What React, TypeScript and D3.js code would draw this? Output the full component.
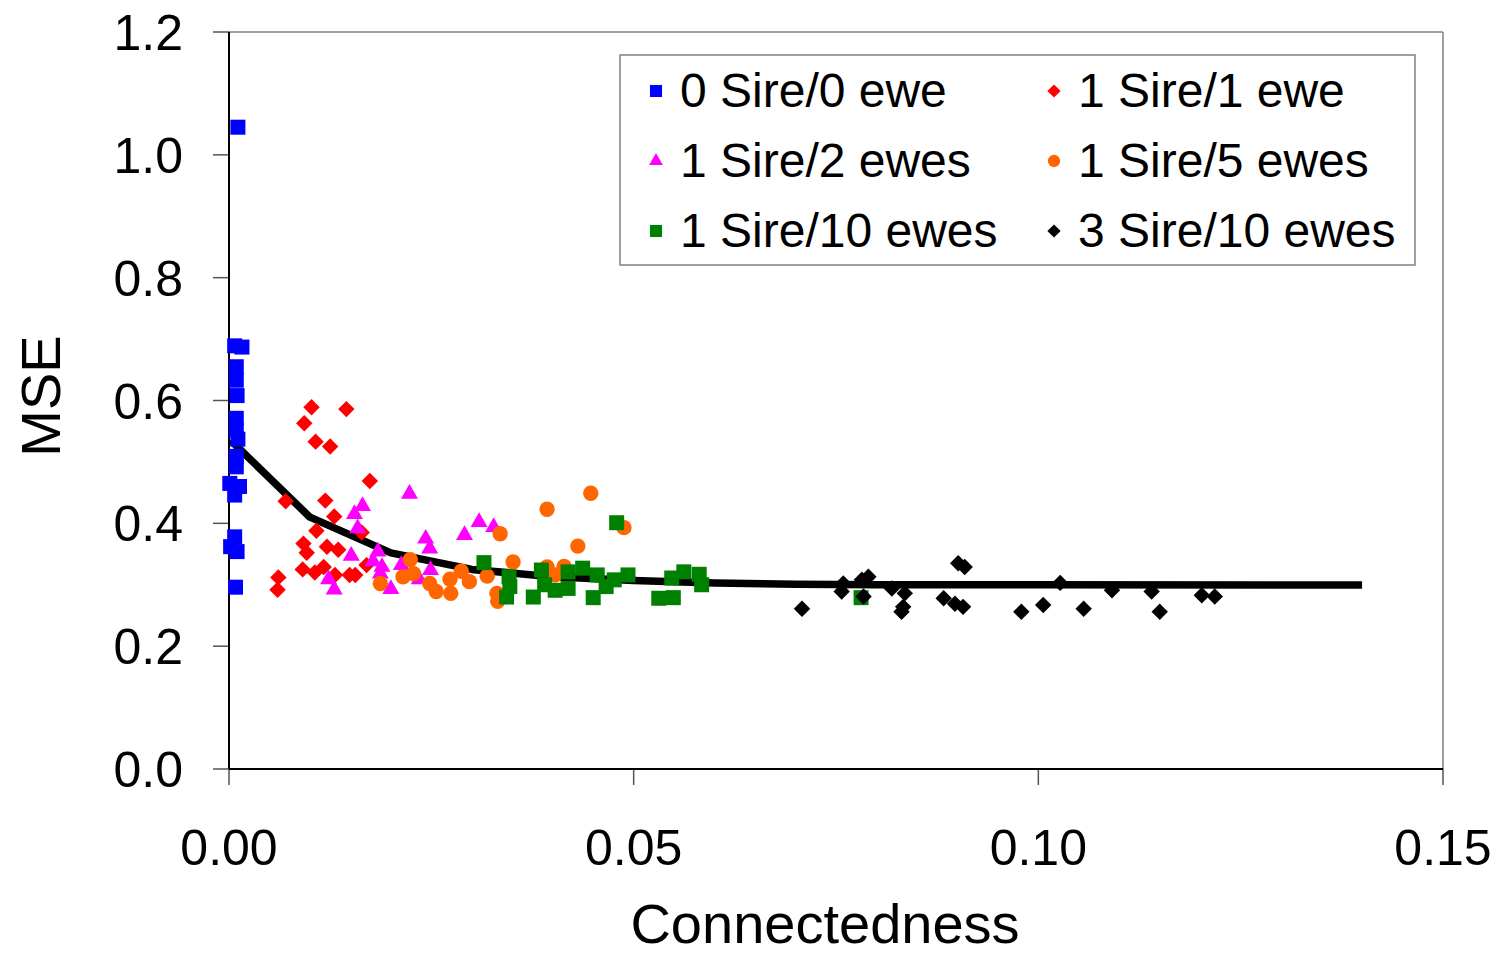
import React from "react";
import * as d3 from "d3";

// [connectedness, MSE] per design
const sire0Ewe0 = [
  [0.0011, 1.045], [0.0007, 0.689], [0.0016, 0.687], [0.0009, 0.655], [0.0009, 0.633],
  [0.001, 0.608], [0.0009, 0.571], [0.0009, 0.552], [0.0011, 0.537], [0.0009, 0.509],
  [0.0009, 0.492], [0.0001, 0.465], [0.0013, 0.46], [0.0007, 0.446], [0.0007, 0.378],
  [0.0002, 0.362], [0.001, 0.354], [0.0008, 0.296],
];
const sire1Ewe1 = [
  [0.0102, 0.589], [0.0145, 0.586], [0.0093, 0.563], [0.0107, 0.533], [0.0125, 0.525],
  [0.0174, 0.469], [0.007, 0.436], [0.0119, 0.437], [0.013, 0.411], [0.0108, 0.388],
  [0.0164, 0.385], [0.0092, 0.367], [0.0096, 0.352], [0.0121, 0.362], [0.0135, 0.357],
  [0.0091, 0.325], [0.0106, 0.32], [0.0117, 0.329], [0.0131, 0.316], [0.0149, 0.316],
  [0.0156, 0.316], [0.017, 0.332], [0.0061, 0.312], [0.006, 0.292],
];
const sire1Ewe2 = [
  [0.0223, 0.448], [0.0165, 0.428], [0.0155, 0.415], [0.0159, 0.392], [0.0243, 0.375],
  [0.0248, 0.359], [0.0309, 0.402], [0.0327, 0.394], [0.0291, 0.381], [0.0151, 0.347],
  [0.0184, 0.354], [0.0178, 0.338], [0.0189, 0.329], [0.0213, 0.332], [0.0249, 0.324],
  [0.0235, 0.309], [0.0123, 0.309], [0.013, 0.292], [0.02, 0.293], [0.0187, 0.318],
];
const sire1Ewe5 = [
  [0.0335, 0.383], [0.0351, 0.337], [0.0224, 0.341], [0.0215, 0.313], [0.0228, 0.318],
  [0.0187, 0.302], [0.0248, 0.302], [0.0256, 0.289], [0.0273, 0.309], [0.0274, 0.286],
  [0.0287, 0.322], [0.0297, 0.305], [0.0319, 0.314], [0.0331, 0.286], [0.0332, 0.273],
  [0.0447, 0.449], [0.0393, 0.423], [0.0488, 0.393], [0.0431, 0.363], [0.0393, 0.329],
  [0.0414, 0.33], [0.0403, 0.316],
];
const sire1Ewe10 = [
  [0.0479, 0.401], [0.0315, 0.336], [0.0346, 0.313], [0.0347, 0.297], [0.0343, 0.28],
  [0.0386, 0.324], [0.0376, 0.28], [0.039, 0.3], [0.0403, 0.291], [0.0419, 0.321],
  [0.0419, 0.294], [0.0437, 0.327], [0.0455, 0.316], [0.045, 0.279], [0.0466, 0.297],
  [0.0476, 0.308], [0.0493, 0.316], [0.0531, 0.278], [0.0547, 0.311], [0.0562, 0.321],
  [0.0581, 0.317], [0.0584, 0.3], [0.0549, 0.279], [0.0781, 0.279],
];
const sire3Ewe10 = [
  [0.0708, 0.261], [0.0759, 0.302], [0.0757, 0.289], [0.0782, 0.308], [0.079, 0.313],
  [0.0784, 0.281], [0.0819, 0.294], [0.0835, 0.286], [0.0831, 0.256], [0.0833, 0.264],
  [0.0883, 0.278], [0.0897, 0.269], [0.0907, 0.264], [0.0901, 0.335], [0.0909, 0.329],
  [0.0979, 0.256], [0.1006, 0.267], [0.1027, 0.303], [0.1056, 0.261], [0.1091, 0.291],
  [0.114, 0.289], [0.115, 0.256], [0.1202, 0.283], [0.1218, 0.281],
];
const trend = [
  [0.0002, 0.536], [0.001, 0.525], [0.01, 0.41], [0.02, 0.352], [0.03, 0.325],
  [0.04, 0.313], [0.05, 0.307], [0.06, 0.303], [0.07, 0.301], [0.08, 0.3],
  [0.1, 0.2998], [0.14, 0.2996],
];
const xTicks = [0, 0.05, 0.1, 0.15];
const yTicks = [0, 0.2, 0.4, 0.6, 0.8, 1.0, 1.2];

const series = [
  { name: "0 Sire/0 ewe", data: sire0Ewe0, color: "#0000FF", shape: "square" },
  { name: "1 Sire/1 ewe", data: sire1Ewe1, color: "#FF0000", shape: "diamond" },
  { name: "1 Sire/2 ewes", data: sire1Ewe2, color: "#FF00FF", shape: "triangle" },
  { name: "1 Sire/5 ewes", data: sire1Ewe5, color: "#FF6600", shape: "circle" },
  { name: "1 Sire/10 ewes", data: sire1Ewe10, color: "#008000", shape: "square" },
  { name: "3 Sire/10 ewes", data: sire3Ewe10, color: "#000000", shape: "diamond" },
];

const font = "Liberation Sans, Arial, sans-serif";

function symbolPath(shape: string, scale: number) {
  if (shape === "square") return d3.symbol(d3.symbolSquare, 225 * scale)();
  if (shape === "diamond") return d3.symbol(d3.symbolSquare, 135 * scale)();
  if (shape === "triangle") return d3.symbol(d3.symbolTriangle, 125 * scale)();
  return d3.symbol(d3.symbolCircle, 185 * scale)();
}

function Marker({ shape, color, x, y, scale = 1 }: any) {
  const rot = shape === "diamond" ? " rotate(45)" : "";
  return (
    <path
      d={symbolPath(shape, scale) || ""}
      fill={color}
      transform={`translate(${x},${y})${rot}`}
    />
  );
}

export default function App() {
  const left = 229, right = 1443, top = 32, bottom = 769;
  const x = d3.scaleLinear().domain([0, 0.15]).range([left, right]);
  const y = d3.scaleLinear().domain([0, 1.2]).range([bottom, top]);
  const line = d3.line<number[]>().x((d) => x(d[0])).y((d) => y(d[1]));

  return (
    <svg
      width={1509}
      height={954}
      style={{ position: "absolute", left: 0, top: 0, background: "#fff" }}
    >
      <rect x={0} y={0} width={1509} height={954} fill="#fff" />
      {/* frame */}
      <line x1={left} x2={right} y1={top} y2={top} stroke="#808080" strokeWidth={1.5} />
      <line x1={right} x2={right} y1={top} y2={bottom} stroke="#808080" strokeWidth={1.5} />

      {/* y axis */}
      {yTicks.map((t) => (
        <g key={"y" + t}>
          <line x1={left - 16} x2={left} y1={y(t)} y2={y(t)} stroke="#555" strokeWidth={1.5} />
          <text
            x={183}
            y={y(t)}
            dy="0.36em"
            textAnchor="end"
            fontFamily={font}
            fontSize={50}
          >
            {t.toFixed(1)}
          </text>
        </g>
      ))}
      {/* x axis */}
      {xTicks.map((t) => (
        <g key={"x" + t}>
          <line x1={x(t)} x2={x(t)} y1={bottom} y2={bottom + 16} stroke="#555" strokeWidth={1.5} />
          <text x={x(t)} y={865} textAnchor="middle" fontFamily={font} fontSize={50}>
            {t.toFixed(2)}
          </text>
        </g>
      ))}
      <line x1={left} x2={left} y1={top} y2={bottom} stroke="#000" strokeWidth={2} />
      <line x1={left} x2={right} y1={bottom} y2={bottom} stroke="#000" strokeWidth={2} />

      <text
        transform={`translate(60,396) rotate(-90)`}
        textAnchor="middle"
        fontFamily={font}
        fontSize={56}
      >
        MSE
      </text>
      <text x={825} y={943} textAnchor="middle" fontFamily={font} fontSize={56}>
        Connectedness
      </text>

      {/* trend line */}
      <path d={line(trend) || ""} fill="none" stroke="#000" strokeWidth={7.5} strokeLinejoin="round" />

      {series.map((s) => (
        <g key={s.name}>
          {s.data.map((d, i) => (
            <Marker key={i} shape={s.shape} color={s.color} x={x(d[0])} y={y(d[1])} />
          ))}
        </g>
      ))}

      {/* legend */}
      <rect x={620} y={55} width={795} height={210} fill="#fff" stroke="#808080" strokeWidth={1.5} />
      {series.map((s, i) => {
        const col = i % 2;
        const row = Math.floor(i / 2);
        const mx = col === 0 ? 656 : 1054;
        const my = 91 + row * 70;
        return (
          <g key={"lg" + s.name}>
            <Marker shape={s.shape} color={s.color} x={mx} y={my} scale={0.65} />
            <text x={mx + 24} y={my + 16} fontFamily={font} fontSize={48}>
              {s.name}
            </text>
          </g>
        );
      })}
    </svg>
  );
}
